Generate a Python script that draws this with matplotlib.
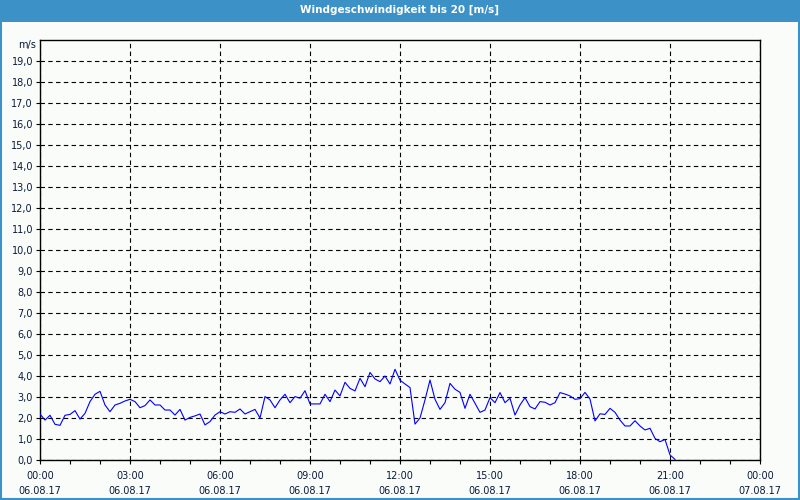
import numpy as np
import matplotlib
matplotlib.use("Agg")
import matplotlib.pyplot as plt
from matplotlib.patches import Rectangle

title = "Windgeschwindigkeit bis 20 [m/s]"
unit_label = "m/s"

# wind speed, 10-minute samples starting 06.08.17 00:00
speed = [
    2.19, 1.90, 2.13, 1.70, 1.65, 2.13, 2.17, 2.35, 1.95, 2.22, 2.78, 3.13, 3.27, 2.62, 2.30, 2.62, 2.70, 2.81,
    2.89, 2.78, 2.49, 2.59, 2.86, 2.62, 2.62, 2.38, 2.38, 2.14, 2.41, 1.90, 2.03, 2.10, 2.19, 1.67, 1.83, 2.14,
    2.30, 2.19, 2.30, 2.27, 2.43, 2.19, 2.30, 2.41, 2.00, 3.02, 2.86, 2.49, 2.86, 3.13, 2.73, 3.02, 2.94, 3.30,
    2.67, 2.67, 2.67, 3.13, 2.78, 3.33, 3.05, 3.70, 3.41, 3.29, 3.89, 3.49, 4.17, 3.86, 3.73, 4.00, 3.62, 4.32,
    3.80, 3.62, 3.45, 1.71, 2.00, 2.86, 3.81, 2.89, 2.41, 2.73, 3.65, 3.37, 3.22, 2.46, 3.13, 2.70, 2.27, 2.38,
    2.97, 2.73, 3.21, 2.73, 2.94, 2.14, 2.62, 2.97, 2.54, 2.43, 2.78, 2.75, 2.62, 2.73, 3.21, 3.14, 3.05, 2.89,
    2.92, 3.22, 2.90, 1.86, 2.20, 2.17, 2.46, 2.27, 1.90, 1.62, 1.62, 1.87, 1.62, 1.43, 1.51, 1.03, 0.87, 0.98,
    0.24, 0.03,
]
sample_minutes = 10

x_tick_hours = [0, 3, 6, 9, 12, 15, 18, 21, 24]
x_tick_labels = ["00:00\n06.08.17", "03:00\n06.08.17", "06:00\n06.08.17", "09:00\n06.08.17",
                 "12:00\n06.08.17", "15:00\n06.08.17", "18:00\n06.08.17", "21:00\n06.08.17",
                 "00:00\n07.08.17"]
y_ticks = list(range(0, 20))
y_tick_labels = [f"{v},0" for v in y_ticks]

hours = np.arange(len(speed)) * sample_minutes / 60.0

bg = "#FAFCFA"
bar_blue = "#3C91C6"
txt = "#0A1A3A"

fig = plt.figure(figsize=(8, 5), dpi=100, facecolor=bg)
ax = fig.add_axes([40/800, 40/500, 720/800, 420/500])
ax.set_facecolor(bg)

ax.plot(hours, speed, color="#0000FF", lw=0.8, zorder=3)

ax.set_xlim(0, 24)
ax.set_ylim(0, 20)
ax.set_xticks(x_tick_hours)
ax.set_xticklabels(x_tick_labels, fontsize=7, color=txt, linespacing=1.6)
ax.set_xticks(np.arange(0, 25, 1), minor=True)
ax.set_yticks(y_ticks)
ax.set_yticklabels(y_tick_labels, fontsize=7, color=txt)

ax.tick_params(axis="both", which="both", direction="out", length=3, width=0.8, color="black")
ax.tick_params(axis="x", which="major", pad=5)
ax.tick_params(axis="y", pad=2)

ax.grid(True, which="major", color="black", lw=0.8, linestyle=(0, (4, 3)))
for s in ax.spines.values():
    s.set_color("black")
    s.set_linewidth(1.0)

ax.text(-0.006, 1 - 5/420, unit_label, transform=ax.transAxes, ha="right", va="center",
        fontsize=7, color=txt)

# title bar
fig.patches.append(Rectangle((0, 1 - 22/500), 1, 22/500, transform=fig.transFigure,
                             facecolor=bar_blue, edgecolor="none", zorder=0))
fig.patches.append(Rectangle((0.6/800, 0.6/500), 1 - 1.2/800, 1 - 1.2/500, transform=fig.transFigure,
                             facecolor="none", edgecolor=bar_blue, lw=1.5, zorder=5))
fig.text(0.5, 1 - 10/500, title, ha="center", va="center", color="white",
         fontsize=7.5, fontweight="bold")

fig.savefig("out.png", dpi=100, facecolor=bg)
